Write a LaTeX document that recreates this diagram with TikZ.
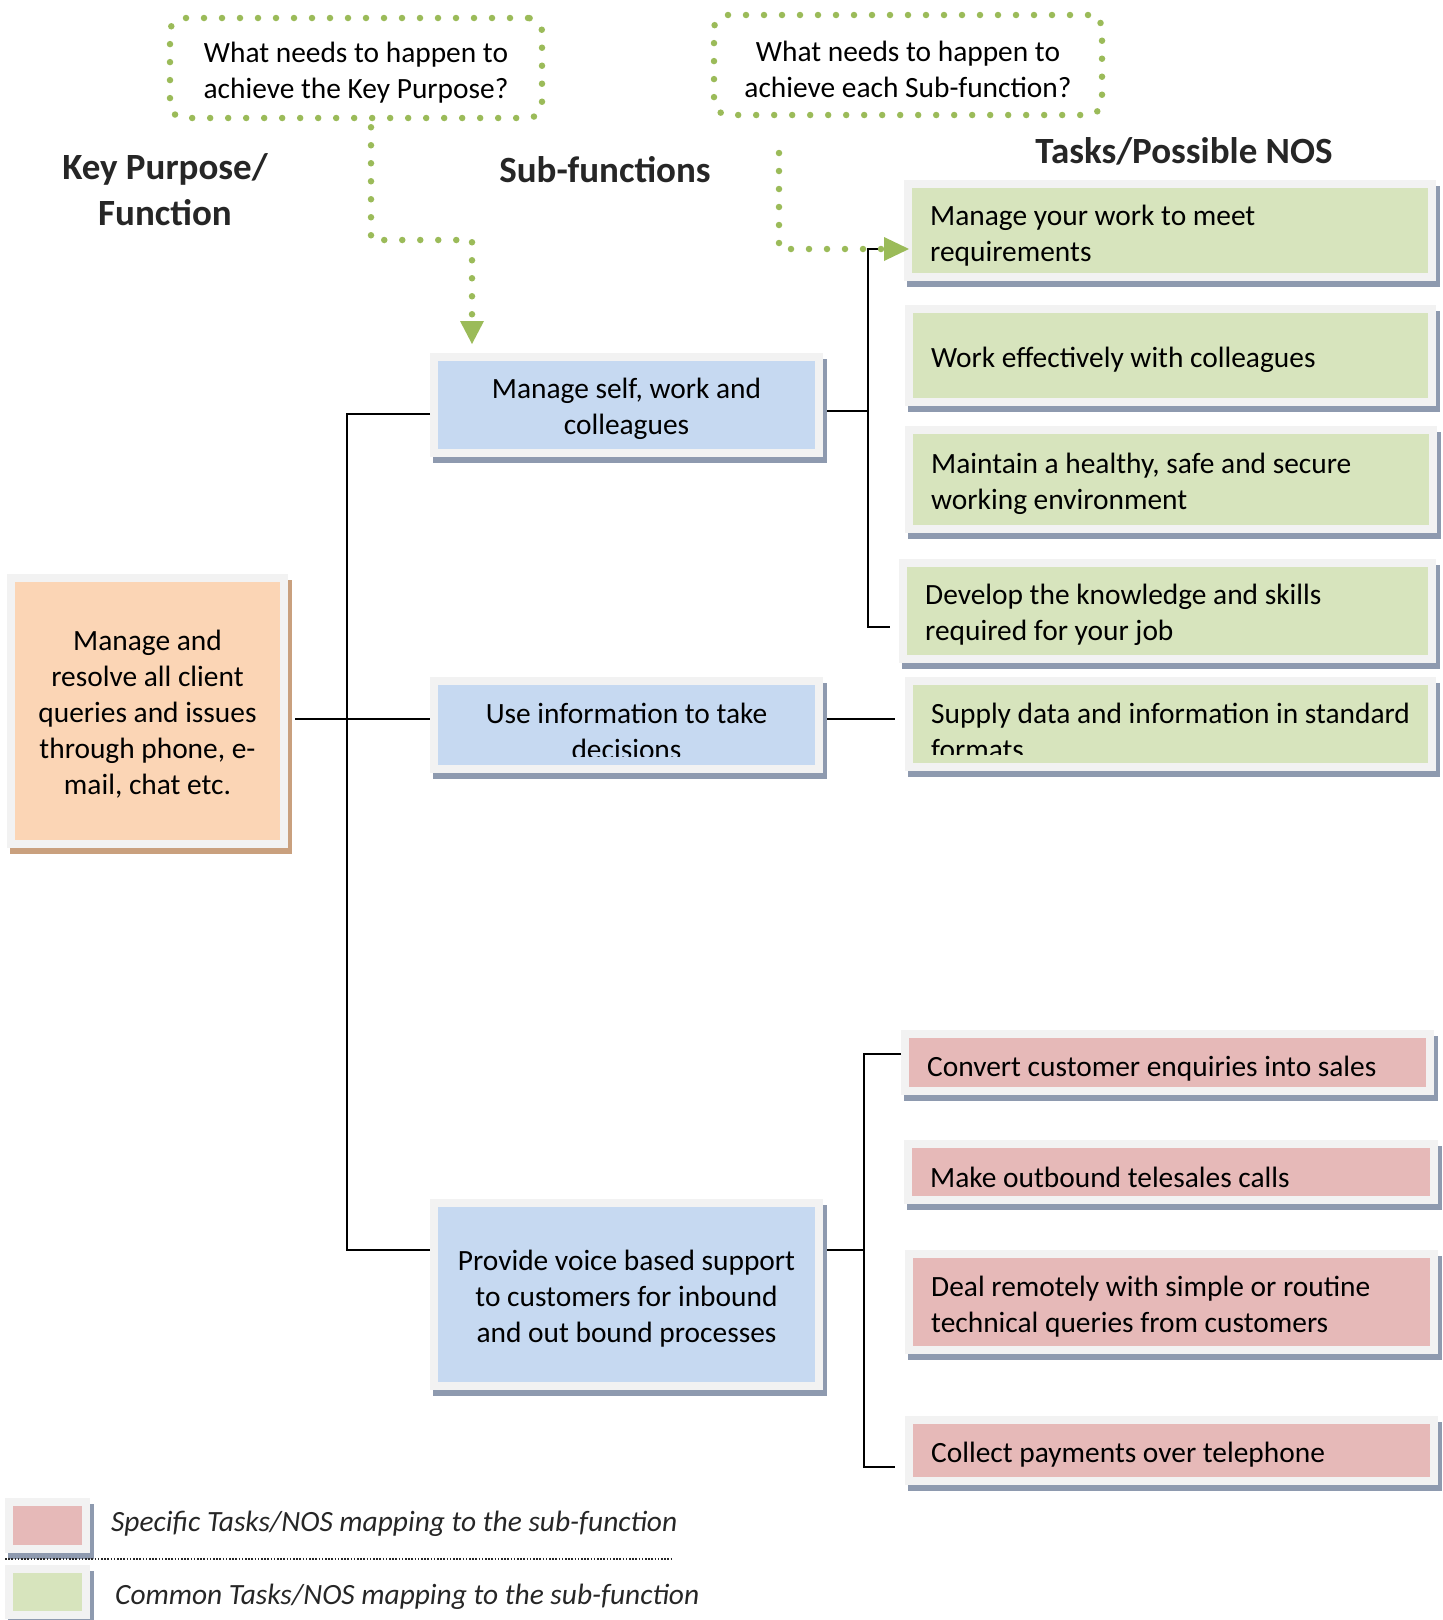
\documentclass[tikz,border=0pt]{standalone}
\usepackage{fontspec}
\setmainfont{Carlito}
\usetikzlibrary{calc}
\definecolor{framegray}{HTML}{F2F2F2}
\definecolor{bluefill}{HTML}{C6D9F1}
\definecolor{greenfill}{HTML}{D7E4BD}
\definecolor{pinkfill}{HTML}{E6B9B8}
\definecolor{orangefill}{HTML}{FBD5B5}
\definecolor{shadowblue}{HTML}{8E9AAF}
\definecolor{shadowtan}{HTML}{C9A07E}
\definecolor{dotgreen}{HTML}{9BBB59}
\definecolor{titlegray}{HTML}{262626}
% #1 name, #2 x1, #3 y1, #4 x2, #5 y2, #6 fill, #7 shadow
\newcommand\mkbox[7]{%
  \fill[#7] ({#2+3},{#3+6}) rectangle ({#4+4},{#5+6});
  \node[boxframe, fill=#6, minimum width={(#4-#2-8)*1pt}, minimum height={(#5-#3-8)*1pt}] (#1) at ({(#2+#4)/2},{(#3+#5)/2}) {};
}
\begin{document}
\begin{tikzpicture}[x=1pt,y=-1pt,
  boxframe/.style={rectangle, draw=framegray, line width=8pt, inner sep=0pt, outer sep=4pt},
  boxtext/.style={font=\fontsize{29.4}{36}\selectfont, inner sep=0pt, text=black},
  centertext/.style={boxtext, align=center},
  lefttext/.style={boxtext, anchor=west, align=left},
  conn/.style={draw=black, line width=1.8pt},
  dotline/.style={draw=dotgreen, line width=6.5pt, line cap=round, dash pattern=on 0pt off 18pt},
  qbox/.style={rectangle, rounded corners=14pt, dotline, inner sep=0pt},
  titletext/.style={font=\fontsize{37}{46}\selectfont\bfseries, text=titlegray, align=center, inner sep=0pt},
  legtext/.style={font=\fontsize{29.4}{36}\selectfont\itshape, inner sep=0pt, anchor=west, text=titlegray},
  sepline/.style={draw=black!85, line width=1.6pt, dash pattern=on 1.6pt off 1.6pt}
]
\useasboundingbox (0,0) rectangle (1443,1620);

% question boxes
\node[qbox, minimum width=372pt, minimum height=100pt] (q1) at (356,68) {};
\node[centertext] (q1text) at ([yshift=-5pt]q1.center) {What needs to happen to\\achieve the Key Purpose?};
\node[qbox, minimum width=388pt, minimum height=100pt] (q2) at (908,65) {};
\node[centertext] (q2text) at ([yshift=-4pt]q2.center) {What needs to happen to\\achieve each Sub-function?};

% titles
\node[titletext] (kptitle) at (165,190) {Key Purpose/\\Function};
\node[titletext] (sftitle) at (605,170) {Sub-functions};
\node[titletext] (tasktitle) at (1184,151) {Tasks/Possible NOS};

% key purpose
\mkbox{kp}{7}{574}{288}{848}{orangefill}{shadowtan}
\node[centertext] (kptext) at ([yshift=-3pt]kp.center) {Manage and\\resolve all client\\queries and issues\\through phone, e-\\mail, chat etc.};

% sub-functions
\mkbox{sf1}{430}{353}{823}{457}{bluefill}{shadowblue}
\node[centertext] (sf1text) at ([yshift=-4pt]sf1.center) {Manage self, work and\\colleagues};
\mkbox{sf2}{430}{677}{823}{773}{bluefill}{shadowblue}
\begin{scope}
  \clip ([shift={(8pt,17pt)}]sf2.south west) rectangle ([shift={(-8pt,-8pt)}]sf2.north east);
  \node[centertext] (sf2text) at ([yshift=-6pt]sf2.center) {Use information to take\\decisions};
\end{scope}
\mkbox{sf3}{430}{1199}{823}{1390}{bluefill}{shadowblue}
\node[centertext] (sf3text) at ([yshift=-4pt]sf3.center) {Provide voice based support\\to customers for inbound\\and out bound processes};

% common tasks
\mkbox{t1}{904}{180}{1436}{281}{greenfill}{shadowblue}
\node[lefttext] (t1text) at ([xshift=26pt,yshift=-5pt]t1.west) {Manage your work to meet\\requirements};
\mkbox{t2}{905}{305}{1436}{406}{greenfill}{shadowblue}
\node[lefttext] (t2text) at ([xshift=26pt,yshift=-4pt]t2.west) {Work effectively with colleagues};
\mkbox{t3}{905}{426}{1437}{533}{greenfill}{shadowblue}
\node[lefttext] (t3text) at ([xshift=26pt,yshift=-4pt]t3.west) {Maintain a healthy, safe and secure\\working environment};
\mkbox{t4}{899}{559}{1436}{663}{greenfill}{shadowblue}
\node[lefttext] (t4text) at ([xshift=26pt,yshift=-4pt]t4.west) {Develop the knowledge and skills\\required for your job};
\mkbox{t5}{905}{677}{1436}{771}{greenfill}{shadowblue}
\begin{scope}
  \clip ([shift={(8pt,17pt)}]t5.south west) rectangle ([shift={(-8pt,-8pt)}]t5.north east);
  \node[lefttext] (t5text) at ([xshift=26pt,yshift=-7pt]t5.west) {Supply data and information in standard\\formats};
\end{scope}

% specific tasks
\mkbox{p1}{901}{1030}{1434}{1095}{pinkfill}{shadowblue}
\node[lefttext] (p1text) at ([xshift=26pt,yshift=-6pt]p1.west) {Convert customer enquiries into sales};
\mkbox{p2}{904}{1140}{1438}{1204}{pinkfill}{shadowblue}
\node[lefttext] (p2text) at ([xshift=26pt,yshift=-5pt]p2.west) {Make outbound telesales calls};
\mkbox{p3}{905}{1250}{1438}{1354}{pinkfill}{shadowblue}
\node[lefttext] (p3text) at ([xshift=26pt,yshift=-5pt]p3.west) {Deal remotely with simple or routine\\technical queries from customers};
\mkbox{p4}{905}{1416}{1438}{1485}{pinkfill}{shadowblue}
\node[lefttext] (p4text) at ([xshift=26pt,yshift=-4pt]p4.west) {Collect payments over telephone};

% connectors: left tree
\coordinate (LT) at (347,414);
\coordinate (LM) at (347,719);
\coordinate (LB) at (347,1250);
\draw[conn] ([xshift=7pt]kp.east |- LM) -- (sf2.west |- LM);
\draw[conn] (sf1.west |- LT) -- (LT) -- (LB) -- (sf3.west |- LB);

% connectors: upper right tree
\coordinate (RT) at (868,249);
\coordinate (RM) at (868,411);
\coordinate (RB) at (868,627);
\draw[conn] (t1.west |- RT) -- (RT) -- (RB) -- ([xshift=-9pt]t4.west |- RB);
\draw[conn] ([xshift=4pt]sf1.east |- RM) -- (RM);
\draw[conn] ([xshift=4pt]sf2.east |- LM) -- ([xshift=-10pt]t5.west |- LM);

% connectors: lower right tree
\coordinate (BT) at (864,1054);
\coordinate (BM) at (864,1250);
\coordinate (BB) at (864,1467);
\draw[conn] (p1.west |- BT) -- (BT) -- (BB) -- ([xshift=-10pt]p4.west |- BB);
\draw[conn] ([xshift=4pt]sf3.east |- BM) -- (BM);

% dotted green arrows
\coordinate (d1a) at (371,240);
\coordinate (d1b) at (472,240);
\coordinate (tip1) at (472,344);
\draw[dotline] ([yshift=-6pt]q1.south -| d1a) -- (d1a) -- (d1b) -- ([yshift=24pt]tip1);
\fill[dotgreen] (tip1) -- ++(-12,-23) -- ++(24,0) -- cycle;

\coordinate (d2s) at (779,153);
\coordinate (d2c) at (779,249);
\coordinate (tip2) at (909,249);
\draw[dotline] (d2s) -- (d2c) -- ([xshift=-27pt]tip2);
\fill[dotgreen] (tip2) -- ++(-25,-12) -- ++(0,24) -- cycle;

% legend
\mkbox{legspec}{5}{1498}{90}{1553}{pinkfill}{shadowblue}
\node[legtext] (legspectext) at (111,1524) {Specific Tasks/NOS mapping to the sub-function};
\draw[sepline] (5,1559) -- (672,1559);
\mkbox{legcom}{5}{1565}{90}{1619}{greenfill}{shadowblue}
\node[legtext] (legcomtext) at (115,1597) {Common Tasks/NOS mapping to the sub-function};
\end{tikzpicture}
\end{document}
